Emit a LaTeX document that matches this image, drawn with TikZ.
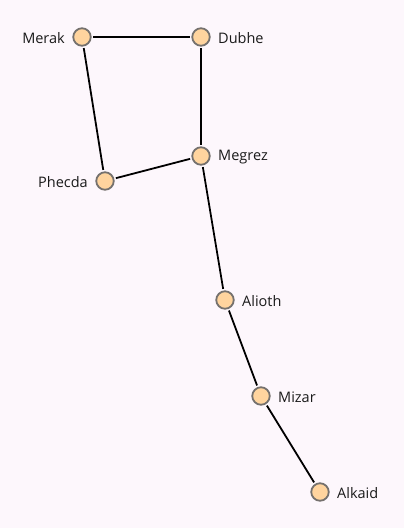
\documentclass[tikz,border=0pt]{standalone}
\usepackage{fontspec}
\setmainfont{Open Sans}
\begin{document}
\begin{tikzpicture}[x=1pt,y=-1pt,
  star/.style={circle,draw=starline,fill=starfill,line width=1.8pt,minimum size=17.5pt,inner sep=0pt,outer sep=2.5pt},
  lbl/.style={font=\fontsize{14.5}{17}\selectfont,text=labeltext,inner sep=0pt},
  edge/.style={draw=black,line width=1.8pt}]
\definecolor{bg}{HTML}{FDF7FC}
\definecolor{starfill}{HTML}{FFD49E}
\definecolor{starline}{HTML}{75716E}
\definecolor{labeltext}{HTML}{1A1A1A}
\fill[bg] (0,0) rectangle (404,528);
\useasboundingbox (0,0) rectangle (404,528);
\node[star] (merak) at (82,37) {};
\node[star] (dubhe) at (201,37) {};
\node[star] (megrez) at (201,156) {};
\node[star] (phecda) at (105,181) {};
\node[star] (alioth) at (225,300) {};
\node[star] (mizar) at (261,396) {};
\node[star] (alkaid) at (320,492) {};
\node[lbl,anchor=east] (lmerak) at (65,38) {Merak};
\node[lbl,anchor=west] (ldubhe) at (218,38) {Dubhe};
\node[lbl,anchor=west] (lmegrez) at (218,157) {Megrez};
\node[lbl,anchor=east] (lphecda) at (88,182) {Phecda};
\node[lbl,anchor=west] (lalioth) at (242,301) {Alioth};
\node[lbl,anchor=west] (lmizar) at (278,397) {Mizar};
\node[lbl,anchor=west] (lalkaid) at (337,493) {Alkaid};
\path[edge] (merak) -- (dubhe);
\path[edge] (dubhe) -- (megrez);
\path[edge] (merak) -- (phecda);
\path[edge] (phecda) -- (megrez);
\path[edge] (megrez) -- (alioth);
\path[edge] (alioth) -- (mizar);
\path[edge] (mizar) -- (alkaid);
\end{tikzpicture}
\end{document}
